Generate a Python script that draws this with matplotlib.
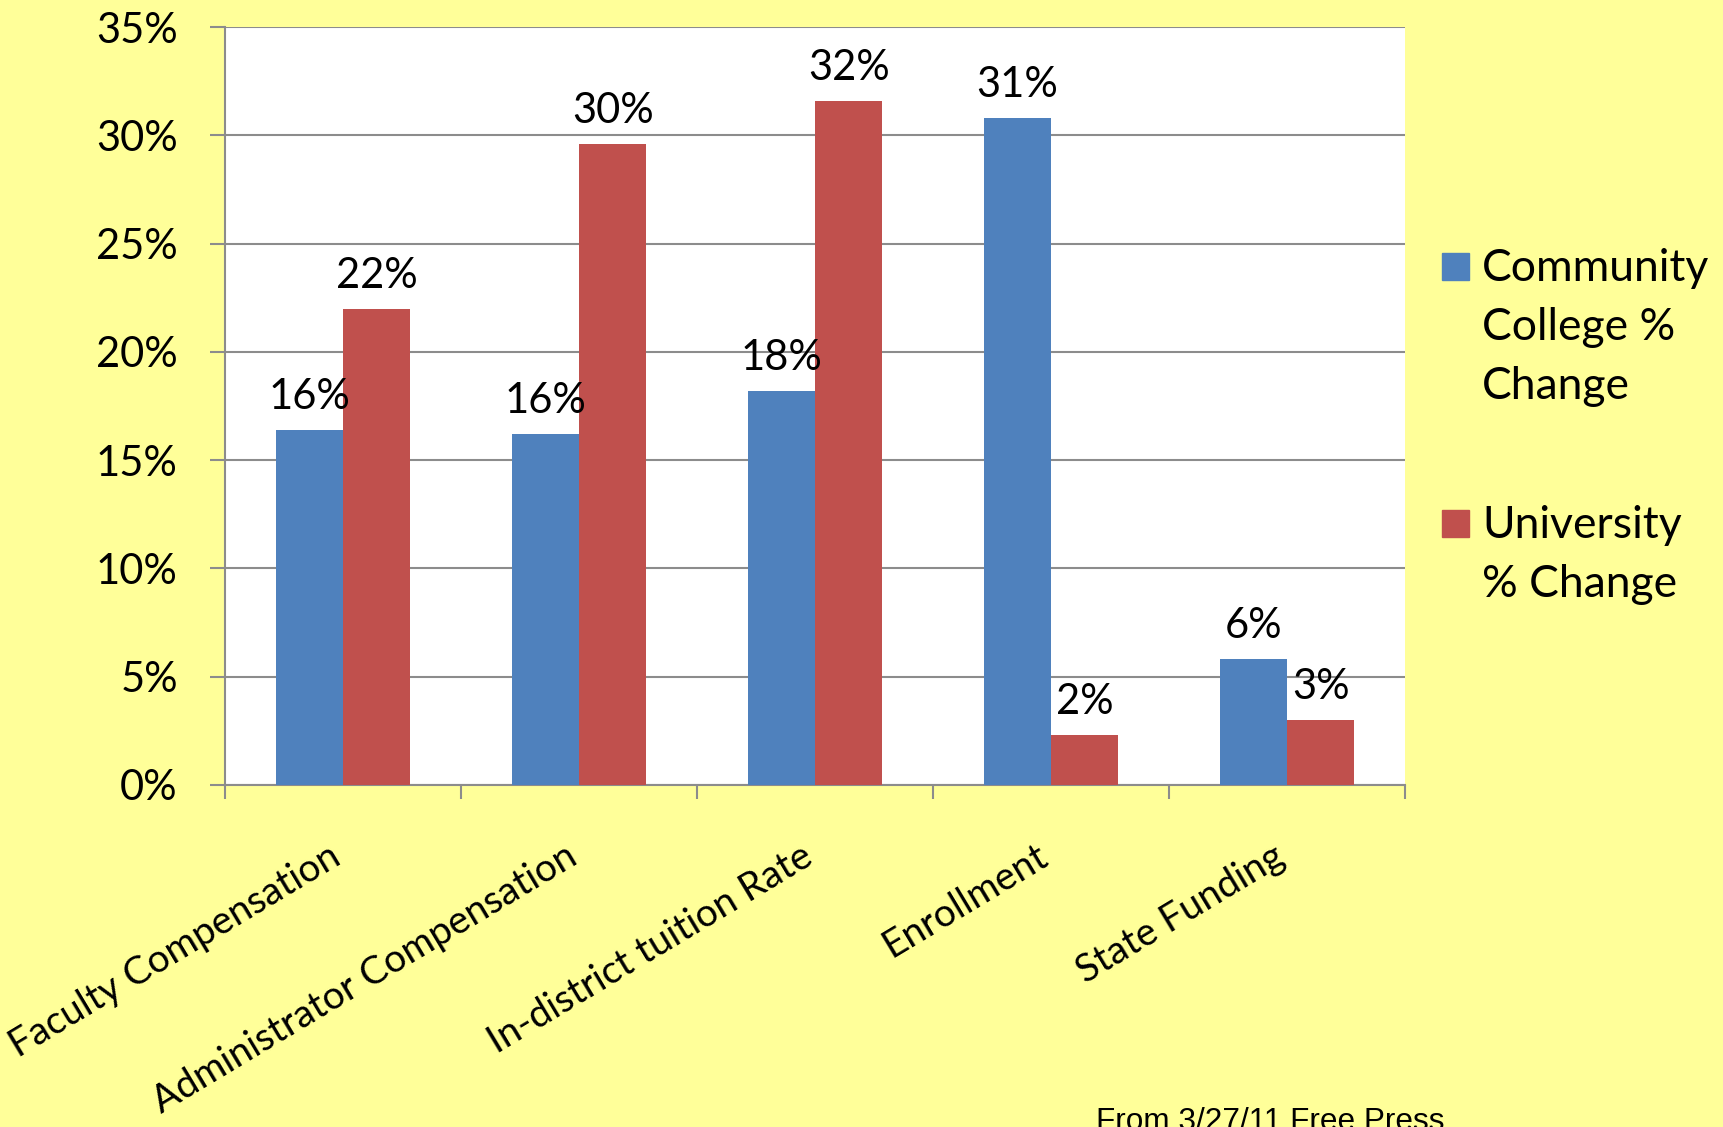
import numpy as np
import matplotlib.pyplot as plt
from matplotlib.patches import Rectangle

# data (percent change)
categories = ['Faculty Compensation', 'Administrator Compensation',
              'In-district tuition Rate', 'Enrollment', 'State Funding']
cc_change = [16.4, 16.2, 18.2, 30.8, 5.8]     # Community College % Change
univ_change = [22.0, 29.6, 31.6, 2.3, 3.0]    # University % Change
yticks = [0, 5, 10, 15, 20, 25, 30, 35]

blue = '#4F81BD'
red = '#C0504D'
gray = '#8C8C8C'
bg = '#FFFF99'

plt.rcParams['font.family'] = ['Lato', 'DejaVu Sans']
fs = 30

fig = plt.figure(figsize=(17.23, 11.27), dpi=100, facecolor=bg)
ax = fig.add_axes([0.1306, 0.3035, 0.6848, 0.6725])
ax.set_facecolor('white')

x = np.arange(len(categories))
w = 0.2857
b1 = ax.bar(x - w/2, cc_change, w, color=blue, zorder=3)
b2 = ax.bar(x + w/2, univ_change, w, color=red, zorder=3)
ax.bar_label(b1, labels=[f'{v:.0f}%' for v in cc_change], padding=10, fontsize=fs)
ax.bar_label(b2, labels=[f'{v:.0f}%' for v in univ_change], padding=10, fontsize=fs)

ax.set_xlim(-0.5, len(categories) - 0.5)
ax.set_ylim(0, 35)
ax.set_yticks(yticks)
ax.set_yticklabels([f'{v}%' for v in yticks], fontsize=fs)
ax.grid(axis='y', color=gray, linewidth=1.5, zorder=0)

# category labels at centres, tick marks at boundaries
ax.set_xticks(x)
ax.set_xticklabels(categories, fontsize=27.7, rotation=31, ha='right', va='baseline',
                   rotation_mode='anchor')
ax.set_xticks(np.arange(len(categories) + 1) - 0.5, minor=True)
ax.tick_params(axis='x', which='major', length=0, pad=56)
ax.tick_params(axis='x', which='minor', length=10, width=1.5, color=gray)
ax.tick_params(axis='y', length=11, width=1.5, color=gray, pad=23)

for s in ['top', 'right']:
    ax.spines[s].set_visible(False)
for s in ['left', 'bottom']:
    ax.spines[s].set_color(gray)
    ax.spines[s].set_linewidth(1.5)

# legend
leg_labels = ['Community\nCollege %\nChange', 'University\n% Change']
leg_colors = [blue, red]
leg_tops = [1 - 250/1127, 1 - 507/1127]
for lab, col, top in zip(leg_labels, leg_colors, leg_tops):
    fig.patches.append(Rectangle((1442/1723, top - 30/1127), 27/1723, 27/1127,
                                 transform=fig.transFigure, color=col))
    fig.text(1482/1723, top + 2/1127, lab, fontsize=32, va='top', ha='left',
             linespacing=1.55)

fig.text(1096/1723, -3.5/1127, 'From 3/27/11 Free Press', fontsize=22.7,
         family='Liberation Sans', va='baseline', ha='left')

fig.savefig('out.png', dpi=100, facecolor=bg)
